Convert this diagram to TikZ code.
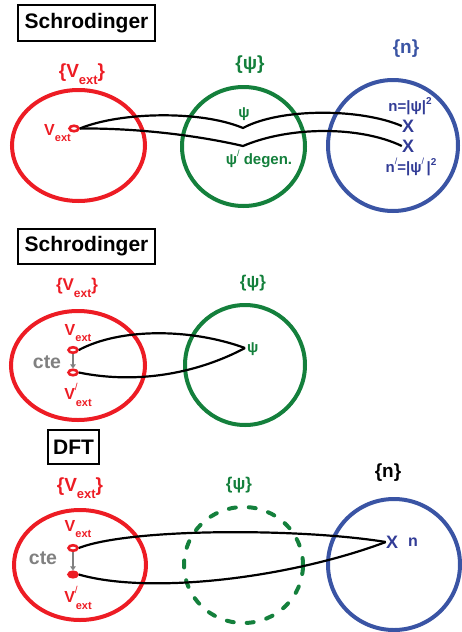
\documentclass[tikz,border=0pt]{standalone}
\usepackage{fontspec}
\setmainfont{Liberation Sans}
\usetikzlibrary{shapes.geometric,arrows.meta}
\definecolor{setred}{RGB}{237,28,36}
\definecolor{setgreen}{RGB}{20,128,60}
\definecolor{setblue}{RGB}{58,84,164}
\definecolor{labelblue}{RGB}{50,60,150}
\definecolor{ctegray}{RGB}{128,128,128}
% subscript "ext" and a slanted prime mark
\newcommand{\lowext}[2]{\raisebox{-#1}{\fontsize{#2}{#2}\selectfont ext}}
\newcommand{\slashprime}[1]{\raisebox{0.55em}{\fontsize{#1}{#1}\selectfont\mdseries /}}
\begin{document}
\begin{tikzpicture}[x=1pt,y=-1pt,
  titlebox/.style={draw, line width=1.3pt, inner sep=0,
    font=\fontsize{21}{22}\selectfont\bfseries},
  ring/.style={ellipse, draw, line width=4pt, inner sep=0},
  vdot/.style={ellipse, draw=setred, line width=2.6pt, fill=white,
    minimum width=9pt, minimum height=5.5pt, inner sep=0},
  link/.style={black, line width=2.2pt},
  setlabel/.style={font=\fontsize{19}{20}\selectfont\bfseries, inner sep=0},
  smalllabel/.style={font=\fontsize{15}{16}\selectfont\bfseries, inner sep=0},
  ctearrow/.style={ctegray, line width=2.4pt, -{Triangle[length=4pt,width=5.5pt]}},
  ctelabel/.style={ctegray, font=\fontsize{19.5}{20}\selectfont\bfseries, inner sep=0},
  xmark/.style={labelblue, font=\fontsize{18}{18}\selectfont\bfseries, inner sep=0}
]
\useasboundingbox (0,0) rectangle (462,632);

% ---------------- Schrodinger: V -> psi -> n ----------------
\node[titlebox, minimum width=137pt, minimum height=36pt] (t1) at (86.5,23) {Schrodinger};

\node[ring, draw=setred, minimum width=133pt, minimum height=111pt] (r1) at (78.5,145.5) {};
\node[ring, draw=setgreen, minimum width=123pt, minimum height=119pt] (g1) at (243.5,146.5) {};
\node[ring, draw=setblue, minimum width=130pt, minimum height=131pt] (b1) at (393,145.5) {};

\node[setlabel, setred] (r1lab) at (82,74) {\{V\lowext{0.4em}{13}\}};
\node[setlabel, setgreen] (g1lab) at (250,65) {\{ψ\}};
\node[setlabel, setblue] (b1lab) at (406,49) {\{n\}};

\node[vdot] (d1) at (74,128.5) {};
\node[smalllabel, setred, anchor=east, font=\fontsize{16}{17}\selectfont\bfseries] (d1lab) at (71,133) {V\lowext{0.4em}{11}};

\coordinate (k1) at (243,128);
\coordinate (k2) at (243,146);
\node[smalllabel, setgreen] (psi1) at (244,114) {ψ};
\node[smalllabel, setgreen] (psi2) at (259,159) {ψ\slashprime{9} degen.};

\node[xmark] (x1) at (408,126) {X};
\node[xmark] (x2) at (408,146) {X};
\node[smalllabel, labelblue] (n1) at (410,106) {n=|ψ|\raisebox{0.5em}{\fontsize{10}{10}\selectfont 2}};
\node[smalllabel, labelblue] (n2) at (411,167) {n\slashprime{9}=|ψ\slashprime{9}\,|\raisebox{0.5em}{\fontsize{10}{10}\selectfont 2}};

\draw[link] (d1.east) .. controls (120,112) and (200,110) .. (k1)
            .. controls (280,108) and (360,108) .. (x1.west);
\draw[link] (d1.east) .. controls (140,128) and (200,136) .. (k2)
            .. controls (290,126) and (360,126) .. (x2.west);

% ---------------- Schrodinger: V and V+cte -> psi ----------------
\node[titlebox, minimum width=137pt, minimum height=35pt] (t2) at (86.5,246.5) {Schrodinger};

\node[ring, draw=setred, minimum width=134pt, minimum height=109pt] (r2) at (78,365.5) {};
\node[ring, draw=setgreen, minimum width=120pt, minimum height=120pt] (g2) at (245,365) {};

\node[setlabel, setred, font=\fontsize{17}{18}\selectfont\bfseries] (r2lab) at (77,288) {\{V\lowext{0.4em}{12}\}};
\node[setlabel, setgreen, font=\fontsize{17}{18}\selectfont\bfseries] (g2lab) at (253,283) {\{ψ\}};

\node[vdot] (d2a) at (73,350) {};
\node[vdot] (d2b) at (73,372.5) {};
\node[smalllabel, setred, font=\fontsize{16}{17}\selectfont\bfseries] (d2alab) at (78,333) {V\lowext{0.4em}{11}};
\node[smalllabel, setred, font=\fontsize{16}{17}\selectfont\bfseries] (d2blab) at (78,395) {V\slashprime{10}\hspace{-2pt}\lowext{0.4em}{11}};
\node[ctelabel] (cte2) at (47,362) {cte};
\draw[ctearrow] (d2a.south) -- (d2b.north);

\coordinate (p2) at (245,348);
\node[smalllabel, setgreen, anchor=west] (psi3) at (247,349) {ψ};
\draw[link] (d2a.east) .. controls (120,328) and (190,328) .. (p2);
\draw[link] (d2b.east) .. controls (140,385) and (200,372) .. (p2);

% ---------------- DFT: V and V+cte -> n ----------------
\node[titlebox, minimum width=51pt, minimum height=34pt] (t3) at (73.5,447) {DFT};

\node[ring, draw=setred, minimum width=132pt, minimum height=110pt] (r3) at (80,565) {};
\node[ring, draw=setgreen, dash pattern=on 7pt off 13pt, line cap=round,
      minimum width=119pt, minimum height=116pt] (g3) at (243.5,565) {};
\node[ring, draw=setblue, minimum width=132pt, minimum height=131pt] (b3) at (394,564.5) {};

\node[setlabel, setred] (r3lab) at (80,488) {\{V\lowext{0.4em}{13}\}};
\node[setlabel, setgreen, font=\fontsize{17}{18}\selectfont\bfseries] (g3lab) at (239,485) {\{ψ\}};
\node[setlabel, black] (b3lab) at (388,473) {\{n\}};

\node[vdot] (d3a) at (73,548) {};
\node[vdot, fill=setred] (d3b) at (73,574.5) {};
\node[smalllabel, setred, font=\fontsize{16}{17}\selectfont\bfseries] (d3alab) at (78,529) {V\lowext{0.4em}{11}};
\node[smalllabel, setred, font=\fontsize{16}{17}\selectfont\bfseries] (d3blab) at (78,598) {V\slashprime{10}\hspace{-2pt}\lowext{0.4em}{11}};
\node[ctelabel] (cte3) at (43,558) {cte};
\draw[ctearrow] (d3a.south) -- (d3b.north);

\node[xmark] (x3) at (392,542) {X};
\node[smalllabel, labelblue, font=\fontsize{16}{17}\selectfont\bfseries] (n3) at (413,542) {n};
\draw[link] (d3a.east) .. controls (130,528) and (300,528) .. (x3.west);
\draw[link] (d3b.east) .. controls (150,595) and (290,578) .. (x3.west);
\end{tikzpicture}
\end{document}
